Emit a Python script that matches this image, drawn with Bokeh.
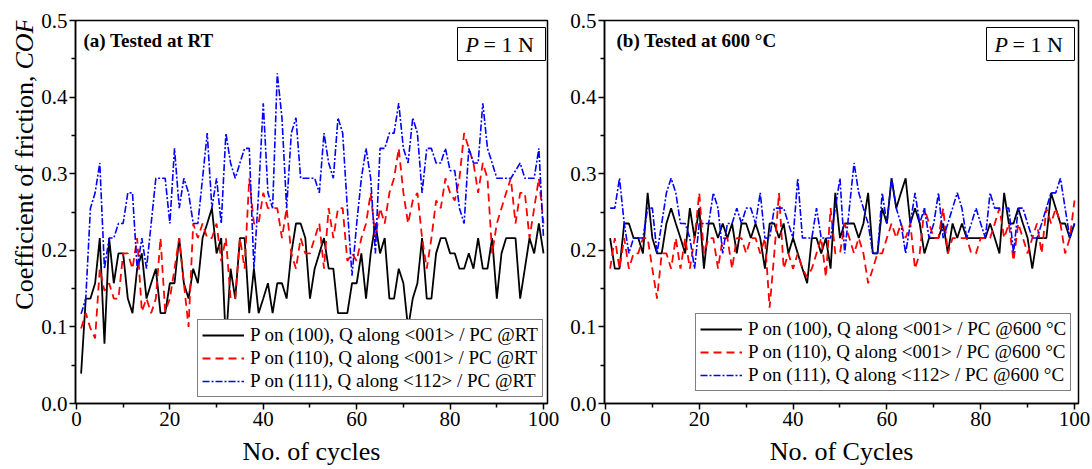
import math
from bokeh.plotting import figure
from bokeh.layouts import row
from bokeh.models import (Range1d, FixedTicker, PrintfTickFormatter, Label, Legend,
                          LegendItem, BoxAnnotation)
from bokeh.embed import file_html
from bokeh.resources import INLINE

cycles = list(range(1, 101))

rt_100 = [0.039, 0.137, 0.137, 0.157, 0.216, 0.078, 0.216, 0.157, 0.196, 0.196,
          0.137, 0.118, 0.176, 0.196, 0.137, 0.157, 0.176, 0.118, 0.118, 0.157,
          0.157, 0.216, 0.157, 0.137, 0.176, 0.157, 0.216, 0.235, 0.255, 0.196,
          0.216, 0.078, 0.176, 0.137, 0.216, 0.216, 0.118, 0.176, 0.118, 0.137,
          0.157, 0.118, 0.157, 0.157, 0.137, 0.196, 0.235, 0.235, 0.216, 0.137,
          0.176, 0.196, 0.216, 0.176, 0.176, 0.118, 0.118, 0.118, 0.157, 0.157,
          0.196, 0.137, 0.196, 0.235, 0.196, 0.216, 0.137, 0.137, 0.176, 0.157,
          0.098, 0.137, 0.157, 0.216, 0.137, 0.137, 0.196, 0.216, 0.216, 0.196,
          0.196, 0.176, 0.176, 0.196, 0.176, 0.216, 0.176, 0.176, 0.216, 0.137,
          0.196, 0.216, 0.216, 0.216, 0.137, 0.176, 0.216, 0.196, 0.235, 0.196]

rt_110 = [0.098, 0.118, 0.098, 0.085, 0.176, 0.147, 0.157, 0.137, 0.137, 0.196,
          0.196, 0.176, 0.216, 0.120, 0.137, 0.118, 0.137, 0.216, 0.120, 0.137,
          0.176, 0.216, 0.157, 0.100, 0.235, 0.216, 0.235, 0.216, 0.216, 0.235,
          0.186, 0.216, 0.137, 0.137, 0.216, 0.176, 0.294, 0.235, 0.235, 0.275,
          0.255, 0.255, 0.255, 0.216, 0.255, 0.196, 0.176, 0.216, 0.196, 0.196,
          0.216, 0.235, 0.176, 0.255, 0.216, 0.255, 0.255, 0.186, 0.196, 0.186,
          0.216, 0.235, 0.275, 0.216, 0.255, 0.235, 0.275, 0.294, 0.333, 0.275,
          0.235, 0.265, 0.275, 0.216, 0.176, 0.216, 0.265, 0.255, 0.294, 0.275,
          0.265, 0.294, 0.353, 0.333, 0.314, 0.275, 0.314, 0.294, 0.196, 0.235,
          0.255, 0.275, 0.294, 0.235, 0.275, 0.275, 0.216, 0.255, 0.294, 0.235]

rt_111 = [0.117, 0.137, 0.255, 0.275, 0.314, 0.176, 0.216, 0.216, 0.235, 0.235,
          0.275, 0.275, 0.176, 0.216, 0.176, 0.235, 0.294, 0.294, 0.294, 0.235,
          0.333, 0.255, 0.294, 0.275, 0.235, 0.235, 0.294, 0.353, 0.255, 0.294,
          0.235, 0.353, 0.314, 0.294, 0.314, 0.333, 0.333, 0.176, 0.275, 0.392,
          0.275, 0.255, 0.431, 0.373, 0.255, 0.353, 0.373, 0.294, 0.294, 0.294,
          0.294, 0.275, 0.353, 0.314, 0.294, 0.373, 0.353, 0.255, 0.167, 0.235,
          0.294, 0.333, 0.294, 0.196, 0.333, 0.333, 0.353, 0.353, 0.392, 0.333,
          0.314, 0.373, 0.353, 0.275, 0.333, 0.333, 0.314, 0.314, 0.333, 0.304,
          0.304, 0.255, 0.235, 0.333, 0.314, 0.314, 0.392, 0.333, 0.314, 0.294,
          0.294, 0.294, 0.294, 0.304, 0.314, 0.294, 0.294, 0.294, 0.333, 0.216]

ht_100 = [0.216, 0.176, 0.176, 0.235, 0.235, 0.216, 0.216, 0.196, 0.275, 0.216,
          0.196, 0.196, 0.235, 0.255, 0.235, 0.216, 0.196, 0.255, 0.216, 0.255,
          0.176, 0.235, 0.235, 0.216, 0.235, 0.216, 0.235, 0.196, 0.235, 0.235,
          0.216, 0.235, 0.216, 0.176, 0.235, 0.235, 0.216, 0.235, 0.196, 0.216,
          0.196, 0.176, 0.157, 0.216, 0.216, 0.196, 0.216, 0.176, 0.275, 0.216,
          0.235, 0.235, 0.235, 0.216, 0.235, 0.275, 0.196, 0.196, 0.255, 0.235,
          0.294, 0.255, 0.275, 0.294, 0.235, 0.255, 0.235, 0.196, 0.216, 0.216,
          0.216, 0.235, 0.196, 0.235, 0.216, 0.235, 0.216, 0.216, 0.216, 0.216,
          0.216, 0.235, 0.216, 0.196, 0.275, 0.235, 0.235, 0.255, 0.235, 0.216,
          0.176, 0.216, 0.216, 0.216, 0.275, 0.255, 0.235, 0.235, 0.216, 0.235]

ht_110 = [0.176, 0.216, 0.176, 0.216, 0.176, 0.196, 0.196, 0.216, 0.216, 0.176,
          0.137, 0.196, 0.196, 0.176, 0.216, 0.176, 0.216, 0.176, 0.216, 0.275,
          0.196, 0.216, 0.216, 0.176, 0.216, 0.216, 0.176, 0.216, 0.216, 0.196,
          0.216, 0.216, 0.196, 0.216, 0.125, 0.196, 0.275, 0.176, 0.196, 0.176,
          0.196, 0.176, 0.165, 0.176, 0.196, 0.216, 0.165, 0.255, 0.196, 0.196,
          0.235, 0.216, 0.196, 0.216, 0.196, 0.157, 0.176, 0.196, 0.196, 0.216,
          0.235, 0.216, 0.235, 0.216, 0.235, 0.176, 0.196, 0.255, 0.235, 0.216,
          0.216, 0.255, 0.196, 0.216, 0.216, 0.216, 0.216, 0.196, 0.196, 0.216,
          0.216, 0.216, 0.235, 0.255, 0.216, 0.235, 0.186, 0.235, 0.216, 0.196,
          0.216, 0.235, 0.196, 0.255, 0.235, 0.255, 0.235, 0.196, 0.216, 0.265]

ht_111 = [0.255, 0.255, 0.294, 0.235, 0.196, 0.216, 0.216, 0.216, 0.255, 0.255,
          0.196, 0.235, 0.275, 0.294, 0.275, 0.235, 0.235, 0.216, 0.176, 0.235,
          0.235, 0.235, 0.275, 0.255, 0.196, 0.235, 0.235, 0.255, 0.235, 0.255,
          0.255, 0.235, 0.275, 0.216, 0.216, 0.255, 0.255, 0.255, 0.235, 0.216,
          0.294, 0.216, 0.216, 0.216, 0.255, 0.216, 0.216, 0.216, 0.255, 0.294,
          0.196, 0.255, 0.314, 0.275, 0.255, 0.235, 0.196, 0.196, 0.275, 0.235,
          0.294, 0.255, 0.235, 0.196, 0.235, 0.275, 0.235, 0.255, 0.216, 0.235,
          0.275, 0.216, 0.235, 0.255, 0.275, 0.255, 0.216, 0.235, 0.255, 0.235,
          0.216, 0.275, 0.255, 0.255, 0.255, 0.255, 0.196, 0.255, 0.255, 0.235,
          0.216, 0.216, 0.235, 0.255, 0.275, 0.275, 0.294, 0.255, 0.216, 0.235]

y_ticks = [0.0, 0.1, 0.2, 0.3, 0.4, 0.5]
y_minor = [0.05, 0.15, 0.25, 0.35, 0.45]
x_ticks = [0, 20, 40, 60, 80, 100]
x_minor = [10, 30, 50, 70, 90]

SERIF = "Liberation Serif"
FW, FH = 474, 383
H = 469


def make_panel(width, left_border, y1, y2, y3, labels, title, xlabel,
               legend_w, legend_y, title_x):
    p = figure(width=width, height=H, output_backend="svg", toolbar_location=None,
               x_range=Range1d(-0.2, 100.85), y_range=Range1d(0, 0.5),
               min_border_left=left_border, min_border_right=width - left_border - FW,
               min_border_top=20, min_border_bottom=H - 20 - FH)
    p.xgrid.visible = False
    p.ygrid.visible = False
    p.outline_line_color = "black"
    p.outline_line_width = 1.5
    p.background_fill_color = "white"
    p.border_fill_color = "white"
    for ax in (p.xaxis[0], p.yaxis[0]):
        ax.axis_line_width = 1.5
        ax.major_tick_in = 0
        ax.major_tick_out = 6
        ax.minor_tick_in = 0
        ax.minor_tick_out = 4
        ax.major_tick_line_width = 1.5
        ax.minor_tick_line_width = 1.5
        ax.major_label_text_font = SERIF
        ax.major_label_text_font_size = "21px"
        ax.major_label_text_color = "black"
        ax.major_label_standoff = 2
    p.xaxis.ticker = FixedTicker(ticks=x_ticks, minor_ticks=x_minor)
    p.yaxis.ticker = FixedTicker(ticks=y_ticks, minor_ticks=y_minor)
    p.yaxis.formatter = PrintfTickFormatter(format="%.1f")
    p.xaxis.axis_label = xlabel
    p.xaxis.axis_label_text_font = SERIF
    p.xaxis.axis_label_text_font_size = "26px"
    p.xaxis.axis_label_text_font_style = "normal"
    p.xaxis.axis_label_text_color = "black"
    p.xaxis.axis_label_standoff = 8

    r1 = p.line(cycles, y1, line_color="black", line_width=1.8)
    r2 = p.line(cycles, y2, line_color="#ff0000", line_width=1.8, line_dash="8 5")
    r3 = p.line(cycles, y3, line_color="#0000ff", line_width=1.6, line_dash="7 2 2 2")

    legend = Legend(items=[LegendItem(label=labels[0], renderers=[r1]),
                           LegendItem(label=labels[1], renderers=[r2]),
                           LegendItem(label=labels[2], renderers=[r3])],
                    location=(FW - 4 - legend_w, legend_y),
                    label_text_font=SERIF, label_text_font_size="19px",
                    label_text_color="black",
                    glyph_width=42, glyph_height=22, label_height=22,
                    label_standoff=6, spacing=1, padding=4, margin=0,
                    border_line_color="black", border_line_width=1,
                    background_fill_color="white", background_fill_alpha=1.0)
    p.add_layout(legend)

    # P = 1 N box
    p.add_layout(BoxAnnotation(left=FW - 92, right=FW - 4, top=FH - 7, bottom=FH - 40,
                               left_units="screen", right_units="screen",
                               top_units="screen", bottom_units="screen",
                               fill_color="white", fill_alpha=1.0,
                               line_color="black", line_width=1, line_alpha=1.0))
    p.add_layout(Label(x=FW - 84, y=FH - 23.5, x_units="screen", y_units="screen",
                       text="P", text_font=SERIF, text_font_style="italic",
                       text_color="black",
                       text_font_size="22px", text_baseline="middle", text_align="left"))
    p.add_layout(Label(x=FW - 66, y=FH - 23.5, x_units="screen", y_units="screen",
                       text="= 1 N", text_font=SERIF, text_color="black",
                       text_font_size="22px", text_baseline="middle", text_align="left"))

    # panel title
    p.add_layout(Label(x=title_x, y=FH - 20, x_units="screen", y_units="screen",
                       text=title, text_font=SERIF, text_font_style="bold",
                       text_color="black",
                       text_font_size="19px", text_baseline="middle", text_align="left"))
    return p


# y-axis title strip (mixed upright / italic text)
YW = 38
ylab = figure(width=YW, height=H, output_backend="svg", toolbar_location=None,
              x_axis_location=None, y_axis_location=None, min_border=0,
              x_range=Range1d(0, 1), y_range=Range1d(0, 1))
ylab.outline_line_color = None
ylab.xgrid.visible = False
ylab.ygrid.visible = False
ylab.add_layout(Label(x=24, y=328, x_units="screen", y_units="screen",
                      text="Coefficient of friction,", text_font=SERIF,
                      text_color="black",
                      text_font_size="26px", text_baseline="middle",
                      text_align="right", angle=math.pi / 2))
ylab.add_layout(Label(x=24, y=334, x_units="screen", y_units="screen",
                      text="COF", text_font=SERIF, text_font_style="italic",
                      text_color="black",
                      text_font_size="26px", text_baseline="middle",
                      text_align="left", angle=math.pi / 2))

p1 = make_panel(560 - YW, 73 - YW, rt_100, rt_110, rt_111,
                ["P on (100), Q along <001> / PC @RT",
                 "P on (110), Q along <001> / PC @RT",
                 "P on (111), Q along <112> / PC @RT"],
                "(a) Tested at RT", "No. of cycles", 348, 6, 8)
p2 = make_panel(532, 44, ht_100, ht_110, ht_111,
                ["P on (100), Q along <001> / PC @600 °C",
                 "P on (110), Q along <001> / PC @600 °C",
                 "P on (111), Q along <112> / PC @600 °C"],
                "(b) Tested at 600 °C", "No. of Cycles", 379, 12, 12)

layout = row(ylab, p1, p2)
open("out.html", "w").write(file_html(layout, INLINE))
